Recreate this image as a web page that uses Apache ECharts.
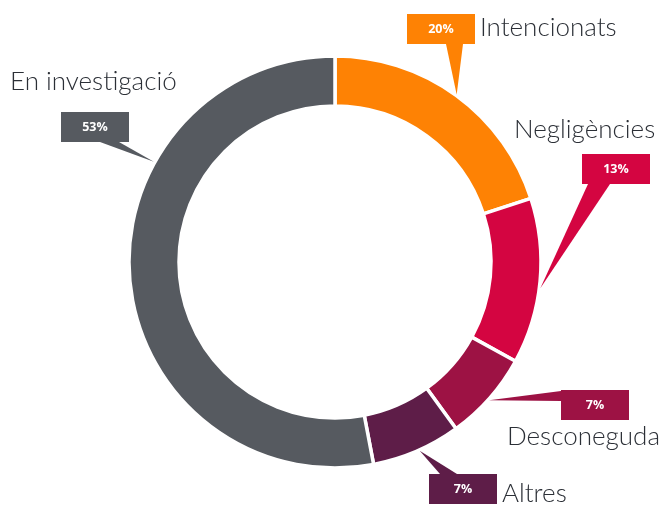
<!DOCTYPE html>
<html>
<head>
<meta charset="utf-8">
<script src="https://cdn.jsdelivr.net/npm/echarts@6/dist/echarts.min.js"></script>
<style>
  html, body { margin: 0; padding: 0; background: #fff; }
  #chart { width: 663px; height: 505px; }
</style>
</head>
<body>
<div id="chart"></div>
<script>
const categories = ["Intencionats", "Negligències", "Desconeguda", "Altres", "En investigació"];
const values = [20, 13, 7, 7, 53];
const colors = ["#FE8204", "#D40541", "#9D1244", "#5E1D48", "#565A60"];

// donut geometry
const center = [335, 262];
const radius = [156, 206];

// callout boxes: top-left of box, wedge base (relative to box), where in the slice the wedge points, name position
const callouts = [
  { box: [407, 14],  base: [[39, 30], [56, 30]], frac: 0.5,  name: [480, 28] },
  { box: [582, 154], base: [[6, 30], [28, 30]],  frac: 0.54, name: [514, 130] },
  { box: [561, 390], base: [[0, 1], [0, 11]],    frac: 0.52, name: [507, 437] },
  { box: [429, 474], base: [[11, 0], [28, 0]],   frac: 0.47, name: [502, 494] },
  { box: [61, 112],  base: [[39, 30], [58, 30]], frac: 0.68, name: [10, 82] }
];
const boxW = 68, boxH = 30;

const chart = echarts.init(document.getElementById("chart"));

const total = values.reduce((a, b) => a + b, 0);
const graphics = [];
let acc = 0;
values.forEach((v, i) => {
  const c = callouts[i];
  const ang = (acc + v * c.frac) / total * 2 * Math.PI;
  acc += v;
  const tipR = radius[1] + 1;
  const tip = [center[0] + tipR * Math.sin(ang), center[1] - tipR * Math.cos(ang)];
  graphics.push({
    type: "polygon",
    shape: { points: [tip, [c.box[0] + c.base[0][0], c.box[1] + c.base[0][1]], [c.box[0] + c.base[1][0], c.box[1] + c.base[1][1]]] },
    style: { fill: colors[i] },
    z: 10
  });
  graphics.push({
    type: "rect",
    shape: { x: c.box[0], y: c.box[1], width: boxW, height: boxH },
    style: { fill: colors[i] },
    z: 11
  });
  graphics.push({
    type: "text",
    x: c.box[0] + boxW / 2,
    y: c.box[1] + boxH / 2,
    style: {
      text: v + "%",
      fill: "#fff",
      font: "bold 12.5px 'Open Sans', sans-serif",
      align: "center",
      verticalAlign: "middle"
    },
    z: 12
  });
  graphics.push({
    type: "text",
    x: c.name[0],
    y: c.name[1],
    style: {
      text: categories[i],
      fill: "#2B2F36",
      font: "300 26px Lato, sans-serif",
      align: "left",
      verticalAlign: "middle"
    },
    z: 12
  });
});

const option = {
  backgroundColor: "#fff",
  animation: false,
  series: [
    {
      type: "pie",
      center: center,
      radius: radius,
      startAngle: 90,
      clockwise: true,
      silent: true,
      label: { show: false },
      labelLine: { show: false },
      itemStyle: { borderColor: "#fff", borderWidth: 3.5 },
      data: categories.map((name, i) => ({
        name: name,
        value: values[i],
        itemStyle: { color: colors[i] }
      }))
    }
  ],
  graphic: graphics
};

option && chart.setOption(option);
</script>
</body>
</html>
